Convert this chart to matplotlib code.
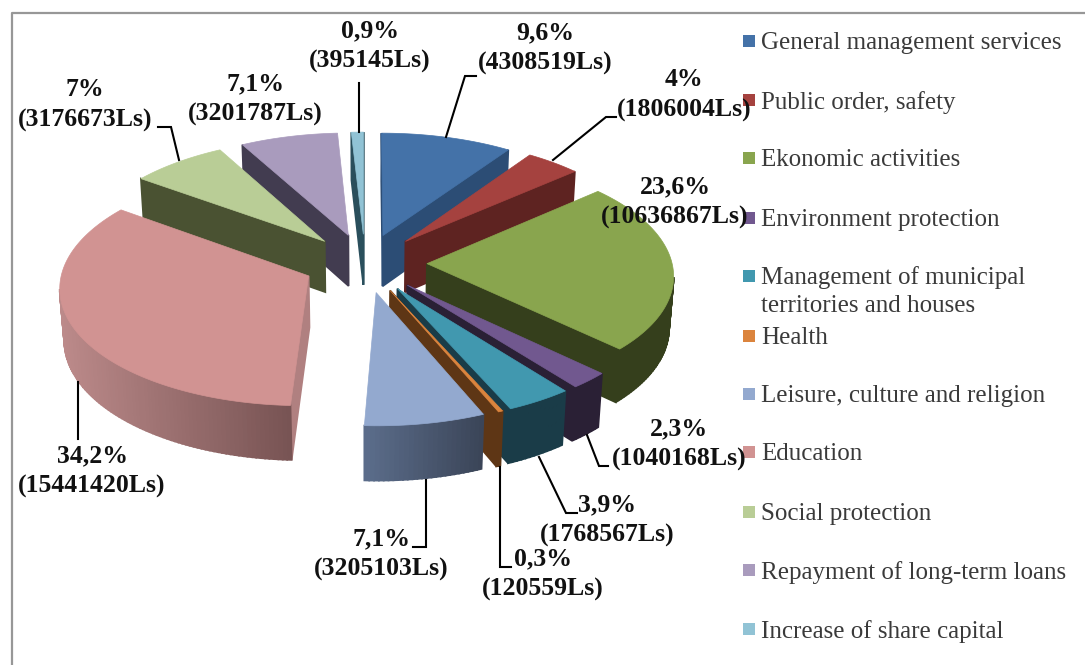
import numpy as np
import matplotlib
matplotlib.use("Agg")
import matplotlib.pyplot as plt
from matplotlib.patches import Polygon, Rectangle

# Budget items and amounts
categories = ["General management services", "Public order, safety", "Ekonomic activities",
              "Environment protection", "Management of municipal\nterritories and houses", "Health",
              "Leisure, culture and religion", "Education", "Social protection",
              "Repayment of long-term loans", "Increase of share capital"]
amounts = [4308519, 1806004, 10636867, 1040168, 1768567, 120559, 3205103, 15441420, 3176673, 3201787, 395145]
percents = ["9,6%", "4%", "23,6%", "2,3%", "3,9%", "0,3%", "7,1%", "34,2%", "7%", "7,1%", "0,9%"]

top_colors = ["#4472A8", "#A5423F", "#89A54E", "#71588F", "#4198AF", "#DB843D",
              "#93A9CF", "#D19392", "#B9CD96", "#A99BBD", "#91C3D5"]
side_colors = ["#2C4D75", "#5E2321", "#353F1C", "#2A2035", "#1A3C48", "#5E3615",
               "#3B4558", "#B08080", "#4A5232", "#423C50", "#2A4F5C"]
arc_left = ["#2C4D75", "#5E2321", "#353F1C", "#2A2035", "#1A3C48", "#5E3615",
            "#5C6E8C", "#BC8A8A", "#4A5232", "#423C50", "#2A4F5C"]
arc_right = ["#2C4D75", "#5E2321", "#353F1C", "#2A2035", "#1A3C48", "#5E3615",
             "#3B4558", "#785454", "#4A5232", "#423C50", "#2A4F5C"]

# 3D pie look (pixels)
CX, CY = 365, 263
RX, KY, DEPTH = 245, 116, 52
PERSP, PERSP_Z = 0.088, 0.015
EXPLODE = 0.253

# label block centres and leader lines, same order as categories
label_xy = [(545, 48), (684, 95), (675, 202), (679, 444), (607, 520), (543, 574),
            (381, 554), (92, 471), (85, 105), (255, 99), (370, 46)]
leaders = [[(476, 76), (465, 76), (446, 137)],
           [(616, 117), (606, 117), (553, 160)],
           None,
           [(608, 466), (599, 466), (587, 435)],
           [(577, 513), (566, 513), (539, 457)],
           [(511, 567), (500, 567), (500, 467)],
           [(413, 547), (426, 547), (426, 480)],
           [(78, 382), (78, 439)],
           [(158, 127), (171, 127), (179, 160)],
           None,
           [(359, 83), (359, 132)]]
legend_y = [41, 100, 158, 218, 276, 336, 394, 452, 512, 570, 629]

SERIF = "Liberation Serif"


def project(x, y, z):
    w = 1 + PERSP * y + PERSP_Z * z
    return CX + RX * x / w, CY - KY * y / w + DEPTH * z / w


def mix(c1, c2, t):
    a = np.array(matplotlib.colors.to_rgb(c1))
    b = np.array(matplotlib.colors.to_rgb(c2))
    return tuple(a + (b - a) * t)


def draw_wedge(ax, i, a0, a1):
    # angles run clockwise from twelve o'clock
    mid = (a0 + a1) / 2
    ox, oy = EXPLODE * np.sin(mid), EXPLODE * np.cos(mid)
    arc = np.linspace(a0, a1, max(int((a1 - a0) * 60), 4))
    xs = np.r_[ox, ox + np.sin(arc), ox]
    ys = np.r_[oy, oy + np.cos(arc), oy]
    top = np.array([project(x, y, 0) for x, y in zip(xs, ys)])
    bot = np.array([project(x, y, 1) for x, y in zip(xs, ys)])

    n = len(xs) - 1
    for j in range(n):
        if top[j + 1, 0] >= top[j, 0]:
            continue
        if j == 0 or j == n - 1:
            col = side_colors[i]
        else:
            t = (top[1:-1, 0].max() - top[j, 0]) / max(np.ptp(top[1:-1, 0]), 1)
            col = mix(arc_right[i], arc_left[i], t)
        quad = [top[j], top[j + 1], bot[j + 1], bot[j]]
        ax.add_patch(Polygon(quad, closed=True, facecolor=col, edgecolor=col, linewidth=1.3))
    ax.add_patch(Polygon(top[:-1], closed=True, facecolor=top_colors[i], edgecolor=top_colors[i], linewidth=0.5))


fig = plt.figure(figsize=(10.85, 6.65), dpi=100)
ax = fig.add_axes([0, 0, 1, 1])
ax.set_xlim(0, 1085)
ax.set_ylim(665, 0)
ax.axis("off")

# frame of the original screenshot
ax.plot([12, 12, 1085], [665, 13, 13], color="#979797", linewidth=1.6)

shares = np.array(amounts) / sum(amounts)
edges = np.r_[0, np.cumsum(shares)] * 2 * np.pi
mids = (edges[:-1] + edges[1:]) / 2
for i in np.argsort(-np.cos(mids) + 0.0):
    draw_wedge(ax, i, edges[i], edges[i + 1])

for pts in leaders:
    if pts:
        ax.plot([p[0] for p in pts], [p[1] for p in pts], color="black", linewidth=1.5, solid_joinstyle="miter")

for i in range(len(amounts)):
    txt = f"{percents[i]}\n({amounts[i]}Ls)"
    ax.text(label_xy[i][0], label_xy[i][1], txt, ha="center", va="center", family=SERIF,
            fontweight="bold", fontsize=18.5, color="#111111", linespacing=1.4)

for i, name in enumerate(categories):
    y = legend_y[i]
    ax.add_patch(Rectangle((743, y - 6), 12, 12, facecolor=top_colors[i], edgecolor="none"))
    ax.text(761, y - 9 if "\n" not in name else y - 10, name, ha="left", va="top", family=SERIF,
            fontsize=18, color="#3A3A3A", linespacing=1.38)

fig.savefig("out.png", dpi=100)
